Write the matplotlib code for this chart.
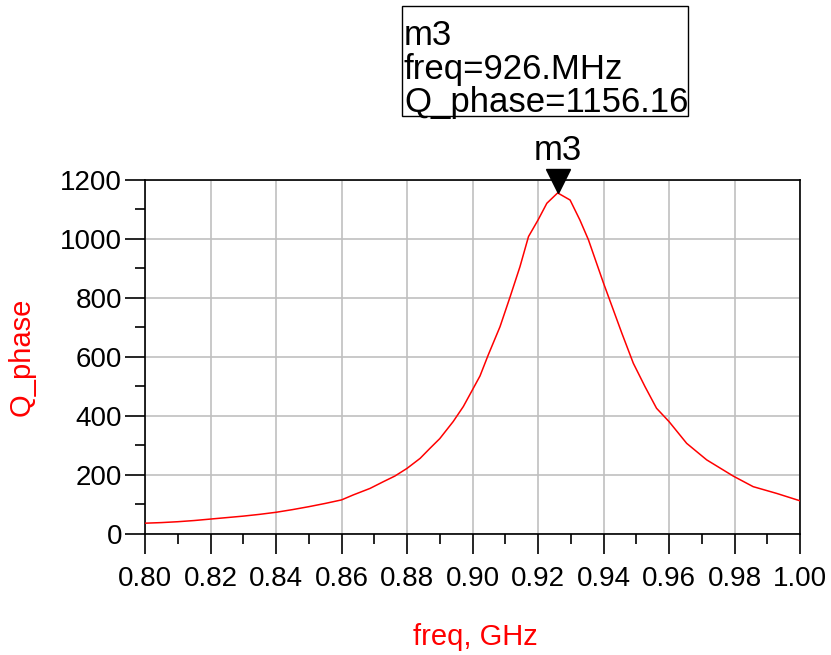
import matplotlib
matplotlib.use("Agg")
import matplotlib.pyplot as plt
from matplotlib.patches import Rectangle
from matplotlib.ticker import MultipleLocator, FormatStrFormatter
import matplotlib.transforms as mtransforms

plt.rcParams['font.family'] = ['Liberation Sans', 'DejaVu Sans']

# Quality factor derived from the phase slope vs. frequency
freq_ghz = [0.800, 0.805, 0.810, 0.815, 0.820, 0.825, 0.830, 0.835, 0.840,
            0.845, 0.850, 0.855, 0.860, 0.8636, 0.8687, 0.8728, 0.8763, 0.880,
            0.884, 0.887, 0.890, 0.8941, 0.8972, 0.900, 0.9023, 0.9048, 0.9084,
            0.9115, 0.9145, 0.9171, 0.920, 0.9227, 0.926, 0.9298, 0.9328,
            0.9354, 0.9379, 0.940, 0.9430, 0.9456, 0.9491, 0.9527, 0.9562,
            0.960, 0.9654, 0.9715, 0.9796, 0.9857, 0.9929, 1.000]
q_phase = [35, 37, 40, 44, 49, 54, 59, 65, 72,
           81, 91, 102, 114, 131, 153, 176, 195, 221,
           255, 289, 322, 380, 431, 488, 535, 606, 702,
           804, 906, 1008, 1064, 1121, 1156.16, 1132, 1064,
           997, 917, 850, 759, 680, 578, 498, 425,
           380, 306, 250, 195, 159, 136, 111]

marker_name = "m3"
marker_freq = 0.926
marker_q = 1156.16

W, H = 831, 655
fig = plt.figure(figsize=(W / 100, H / 100), dpi=100)
ax = fig.add_axes([145 / W, 1 - 533.5 / H, 655 / W, 353.5 / H])

ax.plot(freq_ghz, q_phase, color='#ff0000', lw=1.1, zorder=3)

ax.set_xlim(0.80, 1.00)
ax.set_ylim(0, 1200)
ax.xaxis.set_major_locator(MultipleLocator(0.02))
ax.xaxis.set_minor_locator(MultipleLocator(0.01))
ax.yaxis.set_major_locator(MultipleLocator(200))
ax.yaxis.set_minor_locator(MultipleLocator(100))
ax.xaxis.set_major_formatter(FormatStrFormatter('%.2f'))

ax.grid(True, which='major', color='#c0c0c0', lw=1.2, zorder=0)
ax.set_axisbelow(True)
for s in ax.spines.values():
    s.set_color('black')
    s.set_linewidth(1.2)

ax.tick_params(which='both', direction='out', top=False, right=False,
               color='black', width=1.2, labelsize=20)
ax.tick_params(axis='x', which='major', length=14.4, pad=9)
ax.tick_params(axis='x', which='minor', length=7.2)
ax.tick_params(axis='y', which='major', length=14.4, pad=2)
ax.tick_params(axis='y', which='minor', length=7.2)

# Axis titles
fig.text(22 / W, 1 - 357 / H, "Q_phase", color='#ff0000', fontsize=21,
         rotation=90, ha='center', va='center')
fig.text(475 / W, 1 - 645 / H, "freq, GHz", color='#ff0000', fontsize=21,
         ha='center', va='baseline')

# Peak marker: downward triangle with its tip on the data point
ms = 17.5
trans = mtransforms.offset_copy(ax.transData, fig=fig, x=0, y=ms / 2, units='points')
ax.plot([marker_freq], [marker_q], marker='v', color='black', ms=ms,
        transform=trans, clip_on=False, zorder=5)
trans_lbl = mtransforms.offset_copy(ax.transData, fig=fig, x=0, y=ms + 1, units='points')
ax.text(marker_freq, marker_q, marker_name, transform=trans_lbl, fontsize=25,
        ha='center', va='bottom', clip_on=False)

# Marker readout box
fig.patches.append(Rectangle((402 / W, 1 - 116 / H), 286 / W, 110 / H,
                             transform=fig.transFigure, fill=False,
                             edgecolor='black', lw=1.0))
lines = [marker_name, f"freq={marker_freq * 1000:.0f}.MHz", f"Q_phase={marker_q:.2f}"]
for txt, base in zip(lines, [45, 78.5, 112]):
    fig.text(404 / W, 1 - base / H, txt, fontsize=25, ha='left', va='baseline')

fig.savefig("out.png", dpi=100)
